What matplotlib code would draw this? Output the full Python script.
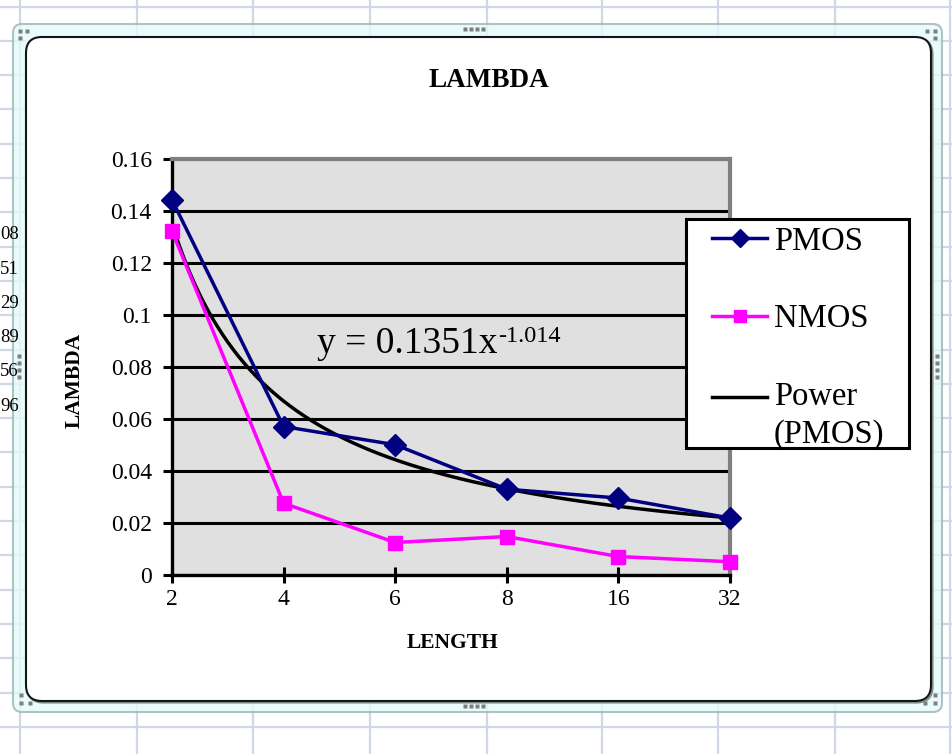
import numpy as np
import matplotlib
matplotlib.use("Agg")
import matplotlib.pyplot as plt
from matplotlib.patches import FancyBboxPatch, Rectangle
from matplotlib.lines import Line2D
from matplotlib.legend_handler import HandlerLine2D

# ---- data -------------------------------------------------------------
lengths = ["2", "4", "6", "8", "16", "32"]
pmos = [0.1443, 0.0571, 0.0501, 0.0330, 0.0296, 0.0219]
nmos = [0.1323, 0.0276, 0.0125, 0.0148, 0.0071, 0.0051]
fit_coef = 0.1351
fit_exp = -1.014
y_ticks = [0, 0.02, 0.04, 0.06, 0.08, 0.10, 0.12, 0.14, 0.16]
y_tick_labels = ["0", "0.02", "0.04", "0.06", "0.08", "0.1", "0.12", "0.14", "0.16"]
cell_fragments = ["08", "51", "29", "89", "56", "96"]

SERIF = ["Liberation Serif", "DejaVu Serif"]
W, H = 953, 754

fig = plt.figure(figsize=(W / 100, H / 100), dpi=100)
fig.patch.set_facecolor("white")

# ---- worksheet backdrop (pixel coordinates, y downwards) ---------------
bg = fig.add_axes([0, 0, 1, 1], zorder=-1)
bg.set_xlim(0, W)
bg.set_ylim(H, 0)
bg.axis("off")

grid_col = "#D0D7E5"
col_x = [20, 137, 253, 370, 487, 602, 718, 835, 950]
row_y = [6.5 + 34.3 * i for i in range(23)]
for cx in col_x:
    bg.plot([cx, cx], [0, H], color=grid_col, lw=1.6, zorder=0)
for ry in row_y:
    bg.plot([0, W], [ry, ry], color=grid_col, lw=1.6, zorder=0)

# selection frame around the chart object
bg.add_patch(FancyBboxPatch((13, 24), 929, 688,
                            boxstyle="round,pad=0,rounding_size=9",
                            fc="#E4FAFA", ec="#9DB4B6", lw=1.5, alpha=0.8, zorder=2))

# neighbouring cell contents peeking out at the left edge
for i, frag in enumerate(cell_fragments):
    bg.text(0, row_y[6 + i] + 27, frag, ha="left", va="baseline",
            fontsize=13.5, family=SERIF, color="black", zorder=2.5)

# chart area
bg.add_patch(FancyBboxPatch((27.5, 38.5), 905, 664,
                            boxstyle="round,pad=0,rounding_size=16",
                            fc="none", ec="#7F8F8C", lw=1.6, zorder=3))
bg.add_patch(FancyBboxPatch((26, 37), 905, 664,
                            boxstyle="round,pad=0,rounding_size=16",
                            fc="white", ec="#151515", lw=1.5, zorder=3))

# sizing handles
handle_pts = (
    [(x, 29) for x in (465, 471, 477, 483)]
    + [(x, 706) for x in (465, 471, 477, 483)]
    + [(19, y) for y in (356, 363, 370, 377)]
    + [(937, y) for y in (356, 363, 370, 377)]
    + [(20, 31), (27, 31), (20, 38)]
    + [(927, 31), (935, 31), (935, 38)]
    + [(21, 695), (21, 703), (30, 703)]
    + [(925, 703), (935, 703), (935, 695)]
)
hx, hy = zip(*handle_pts)
bg.plot(hx, hy, ls="none", marker="s", ms=2.6, mfc="#7F7F7F", mec="none", zorder=4)

# titles
bg.text(489, 87, "LAMBDA", ha="center", va="baseline", fontsize=19.5,
        fontweight="bold", family=SERIF, zorder=5)
bg.text(75, 380, "LAMBDA", ha="center", va="center", rotation=90,
        fontsize=15.5, fontweight="bold", family=SERIF, zorder=5)
bg.text(453, 648, "LENGTH", ha="center", va="baseline", fontsize=15.5,
        fontweight="bold", family=SERIF, zorder=5)

# ---- plot area --------------------------------------------------------
x0, x1, ytop, ybot = 172, 730, 159, 575
ax = fig.add_axes([x0 / W, 1 - ybot / H, (x1 - x0) / W, (ybot - ytop) / H], zorder=1)
ax.set_facecolor("#E0E0E0")

pos = np.arange(1, len(lengths) + 1)
ax.set_xlim(1, len(lengths))
ax.set_ylim(0, 0.16)

ax.set_yticks(y_ticks)
ax.set_yticklabels(y_tick_labels)
ax.set_xticks(pos)
ax.set_xticklabels(lengths)

ax.set_axisbelow(True)
ax.yaxis.grid(True, color="black", lw=2.2)
ax.xaxis.grid(False)

for side in ("left", "bottom"):
    ax.spines[side].set_color("black")
    ax.spines[side].set_linewidth(2.4)
for side in ("top", "right"):
    ax.spines[side].set_color("#808080")
    ax.spines[side].set_linewidth(3)
for sp in ax.spines.values():
    sp.set_zorder(1.5)

ax.tick_params(axis="y", direction="out", length=6.5, width=2.2, pad=8,
               labelsize=17, colors="black")
ax.tick_params(axis="x", direction="inout", length=12, width=2.2, pad=4,
               labelsize=17, colors="black")
for lab in ax.get_xticklabels() + ax.get_yticklabels():
    lab.set_family(SERIF)

# trend line from the fitted power law
xf = np.linspace(1, len(lengths), 300)
ax.plot(xf, fit_coef * xf ** fit_exp, color="black", lw=2.5, zorder=2.2,
        solid_capstyle="round")

ax.plot(pos, pmos, color="#000080", lw=2.5, marker="D", ms=11,
        mfc="#000080", mec="#000080", clip_on=False, zorder=3)
ax.plot(pos, nmos, color="#FF00FF", lw=2.5, marker="s", ms=10.5,
        mfc="#FF00FF", mec="#FF00FF", clip_on=False, zorder=2.6)

# ---- overlay layer: equation and legend -------------------------------
top = fig.add_axes([0, 0, 1, 1], zorder=2)
top.set_xlim(0, W)
top.set_ylim(H, 0)
top.axis("off")

eq_main = top.text(317, 353, f"y = {fit_coef:.4f}x", ha="left", va="baseline",
                   fontsize=27, family=SERIF)
fig.canvas.draw()
bb = eq_main.get_window_extent()
top.annotate(f"{fit_exp:.3f}", xy=(bb.x1 + 1, bb.y0), xycoords="figure pixels",
             xytext=(0, 13.5), textcoords="offset points", ha="left",
             va="baseline", fontsize=17.5, family=SERIF)


class FirstLineHandler(HandlerLine2D):
    """Line handle aligned with the first line of a two-line label."""

    def __init__(self, shift, **kw):
        super().__init__(**kw)
        self.shift = shift

    def create_artists(self, legend, orig_handle, xdescent, ydescent,
                       width, height, fontsize, trans):
        arts = super().create_artists(legend, orig_handle, xdescent, ydescent,
                                      width, height, fontsize, trans)
        for a in arts:
            a.set_ydata(np.asarray(a.get_ydata(), dtype=float) + self.shift)
        return arts


top.add_patch(Rectangle((686, 219), 223, 229, fc="white", ec="black",
                        lw=2.2, zorder=5))
h_p = Line2D([], [], color="#000080", lw=2.5, marker="D", ms=9, mfc="#000080", mec="#000080")
h_n = Line2D([], [], color="#FF00FF", lw=2.5, marker="s", ms=9, mfc="#FF00FF", mec="#FF00FF")
h_f = Line2D([], [], color="black", lw=2.5)
leg = top.legend([h_p, h_n, h_f], ["PMOS", "NMOS", "Power\n(PMOS)"],
                 loc="upper left", bbox_to_anchor=(712 / W, 1 - 226 / H),
                 bbox_transform=fig.transFigure, frameon=False,
                 borderpad=0, borderaxespad=0, handlelength=1.7,
                 handletextpad=0.2, labelspacing=1.45, numpoints=1,
                 handler_map={h_f: FirstLineHandler(shift=14)},
                 prop={"family": SERIF, "size": 23.5})
leg.get_texts()[2].set_linespacing(1.3)
leg.set_zorder(6)

fig.savefig("out.png", dpi=100)
